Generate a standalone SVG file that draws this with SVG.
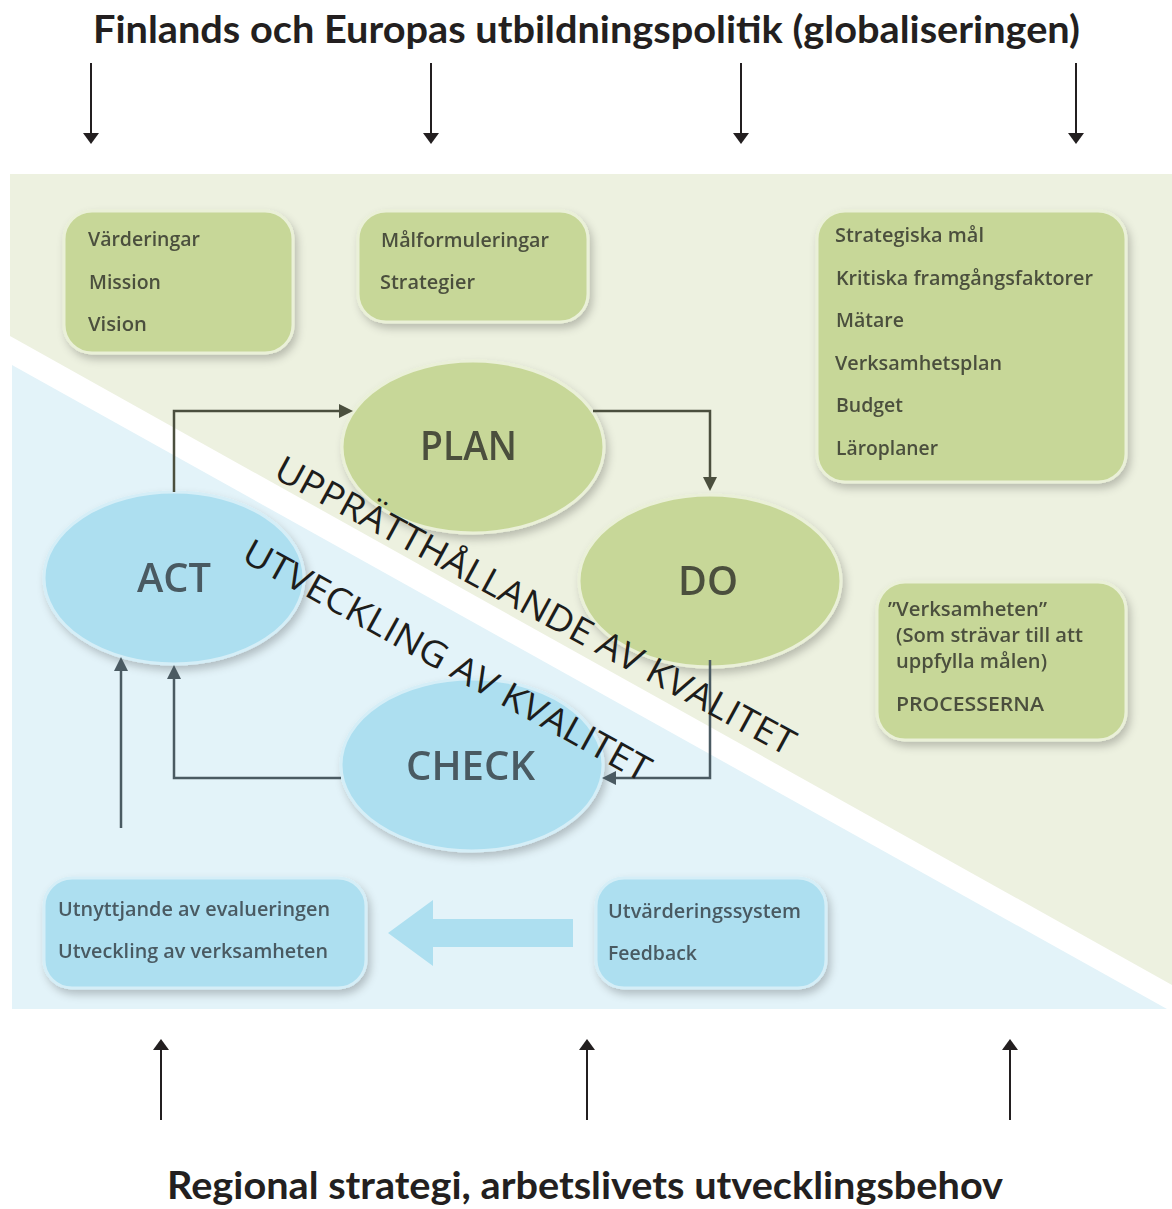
<svg xmlns="http://www.w3.org/2000/svg" width="1172" height="1209" viewBox="0 0 1172 1209">
<defs>
<style>
.ttl{font-family:Lato,"Open Sans","Liberation Sans",sans-serif;font-weight:700;font-size:38px;fill:#231f20}
.gbox{fill:#c7d798;stroke:#eaf0d8;stroke-width:3}
.bbox{fill:#addff0;stroke:#d5eef7;stroke-width:3}
.gt{font-family:"Open Sans","Liberation Sans",sans-serif;font-weight:600;font-size:19px;fill:#4b4f3e}
.bt{font-family:"Open Sans","Liberation Sans",sans-serif;font-weight:600;font-size:19px;fill:#4a5a62}
.bigg{font-family:"Open Sans","Liberation Sans",sans-serif;font-weight:600;font-size:40px;fill:#4b4f3e}
.bigb{font-family:"Open Sans","Liberation Sans",sans-serif;font-weight:600;font-size:40px;fill:#4a5a62}
.diag{font-family:"Open Sans","Liberation Sans",sans-serif;font-weight:400;font-size:36px;fill:#1d1d1b}
.ext{stroke:#231f20;stroke-width:2;fill:none}
.co{stroke:#4b4f3e;stroke-width:2.5;fill:none}
.cs{stroke:#4a5a62;stroke-width:2.5;fill:none}
</style>
<filter id="sh" x="-20%" y="-20%" width="150%" height="150%">
<feDropShadow dx="3" dy="5" stdDeviation="4" flood-color="#000" flood-opacity="0.22"/>
</filter>
<marker id="ahk" markerUnits="userSpaceOnUse" markerWidth="12" markerHeight="16" refX="0" refY="8" orient="auto">
<path d="M0,0 L11,8 L0,16 z" fill="#231f20"/>
</marker>
<marker id="aho" markerUnits="userSpaceOnUse" markerWidth="15" markerHeight="14" refX="0" refY="7" orient="auto">
<path d="M0,0 L14,7 L0,14 z" fill="#4b4f3e"/>
</marker>
<marker id="ahs" markerUnits="userSpaceOnUse" markerWidth="15" markerHeight="14" refX="0" refY="7" orient="auto">
<path d="M0,0 L14,7 L0,14 z" fill="#4a5a62"/>
</marker>
</defs>

<g id="background">
<polygon points="10,174 1172,174 1172,985 10,336" fill="#edf1e0"/>
<polygon points="12,365 1167,1009 12,1009" fill="#e3f3f9"/>
</g>

<g id="title-top">
<text class="ttl" x="93" y="43" textLength="987" lengthAdjust="spacingAndGlyphs">Finlands och Europas utbildningspolitik (globaliseringen)</text>
</g>
<g id="title-bottom">
<text class="ttl" x="167" y="1199" textLength="836" lengthAdjust="spacingAndGlyphs">Regional strategi, arbetslivets utvecklingsbehov</text>
</g>

<g id="box-varderingar" filter="url(#sh)">
<rect class="gbox" x="64" y="211" width="229" height="142" rx="28"/>
<text class="gt" x="88" y="246" textLength="112" lengthAdjust="spacingAndGlyphs">Värderingar</text>
<text class="gt" x="89" y="289" textLength="72" lengthAdjust="spacingAndGlyphs">Mission</text>
<text class="gt" x="88" y="331" textLength="59" lengthAdjust="spacingAndGlyphs">Vision</text>
</g>

<g id="box-malformuleringar" filter="url(#sh)">
<rect class="gbox" x="358" y="211" width="230" height="111" rx="28"/>
<text class="gt" x="381" y="247" textLength="168" lengthAdjust="spacingAndGlyphs">Målformuleringar</text>
<text class="gt" x="380" y="289" textLength="95" lengthAdjust="spacingAndGlyphs">Strategier</text>
</g>

<g id="box-strategiska" filter="url(#sh)">
<rect class="gbox" x="817" y="211" width="309" height="271" rx="28"/>
<text class="gt" x="835" y="242" textLength="149" lengthAdjust="spacingAndGlyphs">Strategiska mål</text>
<text class="gt" x="836" y="285" textLength="257" lengthAdjust="spacingAndGlyphs">Kritiska framgångsfaktorer</text>
<text class="gt" x="836" y="327" textLength="68" lengthAdjust="spacingAndGlyphs">Mätare</text>
<text class="gt" x="835" y="370" textLength="167" lengthAdjust="spacingAndGlyphs">Verksamhetsplan</text>
<text class="gt" x="836" y="412" textLength="67" lengthAdjust="spacingAndGlyphs">Budget</text>
<text class="gt" x="836" y="455" textLength="102" lengthAdjust="spacingAndGlyphs">Läroplaner</text>
</g>

<g id="box-verksamheten" filter="url(#sh)">
<rect class="gbox" x="877" y="582" width="249" height="158" rx="28"/>
<text class="gt" x="888" y="616" textLength="159" lengthAdjust="spacingAndGlyphs">”Verksamheten”</text>
<text class="gt" x="896" y="642" textLength="187" lengthAdjust="spacingAndGlyphs">(Som strävar till att</text>
<text class="gt" x="896" y="668" textLength="151" lengthAdjust="spacingAndGlyphs">uppfylla målen)</text>
<text class="gt" x="896" y="711" textLength="148" lengthAdjust="spacingAndGlyphs">PROCESSERNA</text>
</g>

<g id="box-utnyttjande" filter="url(#sh)">
<rect class="bbox" x="44" y="878" width="322" height="110" rx="28"/>
<text class="bt" x="58" y="916" textLength="272" lengthAdjust="spacingAndGlyphs">Utnyttjande av evalueringen</text>
<text class="bt" x="58" y="958" textLength="270" lengthAdjust="spacingAndGlyphs">Utveckling av verksamheten</text>
</g>

<g id="box-utvarderingssystem" filter="url(#sh)">
<rect class="bbox" x="596" y="878" width="230" height="110" rx="28"/>
<text class="bt" x="608" y="918" textLength="193" lengthAdjust="spacingAndGlyphs">Utvärderingssystem</text>
<text class="bt" x="608" y="960" textLength="89" lengthAdjust="spacingAndGlyphs">Feedback</text>
</g>

<g id="node-plan" filter="url(#sh)">
<ellipse class="gbox" cx="473" cy="447" rx="131" ry="86"/>
<text class="bigg" x="420" y="460" textLength="97" lengthAdjust="spacingAndGlyphs">PLAN</text>
</g>
<g id="node-do" filter="url(#sh)">
<ellipse class="gbox" cx="710" cy="581" rx="131" ry="86"/>
<text class="bigg" x="678" y="595" textLength="60" lengthAdjust="spacingAndGlyphs">DO</text>
</g>
<g id="node-act" filter="url(#sh)">
<ellipse class="bbox" cx="174" cy="578" rx="130" ry="86"/>
<text class="bigb" x="137" y="592" textLength="74" lengthAdjust="spacingAndGlyphs">ACT</text>
</g>
<g id="node-check" filter="url(#sh)">
<ellipse class="bbox" cx="472" cy="765" rx="131" ry="86"/>
<text class="bigb" x="406" y="780" textLength="129" lengthAdjust="spacingAndGlyphs">CHECK</text>
</g>

<g id="connectors">
<line class="ext" x1="91" y1="63" x2="91" y2="133" marker-end="url(#ahk)"/>
<line class="ext" x1="431" y1="63" x2="431" y2="133" marker-end="url(#ahk)"/>
<line class="ext" x1="741" y1="63" x2="741" y2="133" marker-end="url(#ahk)"/>
<line class="ext" x1="1076" y1="63" x2="1076" y2="133" marker-end="url(#ahk)"/>
<line class="ext" x1="161" y1="1120" x2="161" y2="1050" marker-end="url(#ahk)"/>
<line class="ext" x1="587" y1="1120" x2="587" y2="1050" marker-end="url(#ahk)"/>
<line class="ext" x1="1010" y1="1120" x2="1010" y2="1050" marker-end="url(#ahk)"/>
<path class="co" d="M174,492 V411 H339" marker-end="url(#aho)"/>
<path class="co" d="M593,411 H710 V477" marker-end="url(#aho)"/>
<path class="cs" d="M710,660 V778 H616" marker-end="url(#ahs)"/>
<path class="cs" d="M341,778 H174 V679" marker-end="url(#ahs)"/>
<path class="cs" d="M121,828 V671" marker-end="url(#ahs)"/>
<polygon id="big-arrow" points="388,933 433,900 433,919 573,919 573,947 433,947 433,966" fill="#addff0"/>
</g>

<g id="diagonal-labels">
<text class="diag" transform="translate(272,477) rotate(28.5)" x="0" y="0" textLength="586" lengthAdjust="spacingAndGlyphs">UPPRÄTTHÅLLANDE AV KVALITET</text>
<text class="diag" transform="translate(240,560) rotate(29)" x="0" y="0" textLength="460" lengthAdjust="spacingAndGlyphs">UTVECKLING AV KVALITET</text>
</g>
</svg>
